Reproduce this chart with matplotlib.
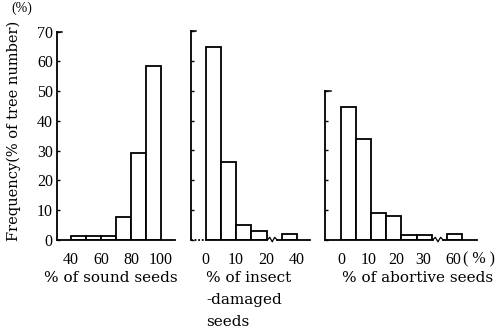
import matplotlib
matplotlib.use("Agg")
import matplotlib.pyplot as plt
import numpy as np

FONT = "Liberation Serif"
LABEL_FONT = "DejaVu Serif"
plt.rcParams["font.family"] = FONT
plt.rcParams["font.size"] = 11

# % of sound seeds: bins of 10 starting at 40
sound_left = [40, 50, 60, 70, 80, 90]
sound_freq = [1.5, 1.5, 1.5, 7.8, 29.2, 58.5]
sound_ticks = [40, 60, 80, 100]

# % of insect-damaged seeds: bins of 5, gap before last bin (35-40)
insect_pos = [0, 1, 2, 3, 5]          # bin index (width 5 %)
insect_freq = [64.5, 26.0, 5.0, 3.0, 1.9]
insect_tick_pos = [0, 2, 4, 6]
insect_tick_lab = ["0", "10", "20", "40"]

# % of abortive seeds: bins of 5, gap before last bin (55-60)
abort_pos = [0, 1, 2, 3, 4, 5, 7]
abort_freq = [44.7, 33.9, 9.0, 8.1, 1.8, 1.8, 2.0]
abort_tick_pos = [0.07, 1.86, 3.64, 5.43, 7.4]
abort_tick_lab = ["0", "10", "20", "30", "60"]

W, H = 501, 332
fig = plt.figure(figsize=(W / 100, H / 100), dpi=100, facecolor="white")


def px_axes(x0, x1, y0, y1):
    # pixel box -> figure fraction
    return fig.add_axes([x0 / W, 1 - y1 / H, (x1 - x0) / W, (y1 - y0) / H])


def style(ax, ytop, labels=False):
    for s in ["top", "right"]:
        ax.spines[s].set_visible(False)
    ax.spines["left"].set_bounds(0, ytop)
    ax.spines["left"].set_linewidth(1.3)
    ax.spines["bottom"].set_linewidth(1.3)
    ax.set_ylim(0, 70)
    ax.set_yticks(np.arange(0, ytop + 1, 10))
    ax.tick_params(axis="y", direction="in", length=2.5, width=1, pad=3,
                   labelleft=labels, labelsize=11.5)
    ax.tick_params(axis="x", length=0, pad=9, labelsize=11.5)
    # small hook at top of y axis
    x0, x1 = ax.get_xlim()
    ax.plot([x0, x0 + 0.04 * (x1 - x0)], [ytop, ytop], color="black", lw=1.1, clip_on=False)


def axis_break(ax, xa, xb, dotted_start=False):
    # zigzag on the baseline between xa and xb
    ax.spines["bottom"].set_visible(False)
    x0, x1 = ax.get_xlim()
    if dotted_start:
        ax.plot([x0, 0], [0, 0], color="black", lw=1.3, ls=(0, (1, 1)), clip_on=False)
        ax.plot([0, xa], [0, 0], color="black", lw=1.3, clip_on=False)
    else:
        ax.plot([x0, xa], [0, 0], color="black", lw=1.3, clip_on=False)
    ax.plot([xb, x1], [0, 0], color="black", lw=1.3, clip_on=False)
    zx = np.linspace(xa, xb, 5)
    zy = [0, 0.9, -0.6, 0.9, 0]
    ax.plot(zx, zy, color="black", lw=0.9, clip_on=False)


bar_kw = dict(align="edge", facecolor="white", edgecolor="black", linewidth=1.3)

# panel 1
ax1 = px_axes(57, 175, 31.5, 240)
ax1.set_xlim(30.7, 109.3)
ax1.bar(sound_left, sound_freq, width=10, **bar_kw)
ax1.set_xticks(sound_ticks)
style(ax1, 70, labels=True)
ax1.set_ylabel("Frequency(% of tree number)", fontsize=10.5, family=LABEL_FONT)
ax1.yaxis.set_label_coords(-0.305, 0.525)
ax1.text(-0.3, 1.08, "(%)", transform=ax1.transAxes, fontsize=10, ha="center", va="bottom")

# panel 2
ax2 = px_axes(191, 310, 31, 240)
ax2.set_xlim(-0.97, 6.86)
ax2.bar(insect_pos, insect_freq, width=1, **bar_kw)
ax2.set_xticks(insect_tick_pos)
ax2.set_xticklabels(insect_tick_lab)
style(ax2, 70)
axis_break(ax2, 4.05, 4.7, dotted_start=True)

# panel 3
ax3 = px_axes(325, 477, 31, 240)
ax3.set_xlim(-1.03, 8.97)
ax3.bar(abort_pos, abort_freq, width=1, **bar_kw)
ax3.set_xticks(abort_tick_pos)
ax3.set_xticklabels(abort_tick_lab)
style(ax3, 50)
axis_break(ax3, 6.05, 6.75)
ax3.text(8.05, -6.4, "( % )", fontsize=11.5, ha="left", va="center")

# axis titles under each panel
fs = 11
fig.text(111 / W, 1 - 278 / H, "% of sound seeds", fontsize=fs, family=LABEL_FONT, ha="center", va="center")
fig.text(206 / W, 1 - 278 / H, "% of insect", fontsize=fs, family=LABEL_FONT, ha="left", va="center")
fig.text(206 / W, 1 - 300 / H, "-damaged", fontsize=fs, family=LABEL_FONT, ha="left", va="center")
fig.text(206 / W, 1 - 322 / H, "seeds", fontsize=fs, family=LABEL_FONT, ha="left", va="center")
fig.text(418 / W, 1 - 278 / H, "% of abortive seeds", fontsize=fs, family=LABEL_FONT, ha="center", va="center")

fig.savefig("out.png", dpi=100, facecolor="white")
